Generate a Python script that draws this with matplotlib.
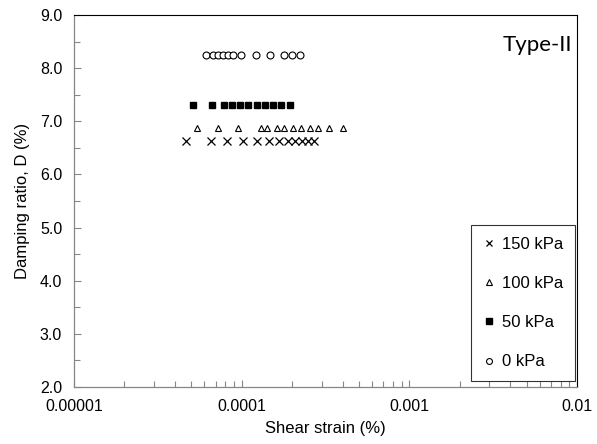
import matplotlib
matplotlib.use("Agg")
import matplotlib.pyplot as plt
from matplotlib.ticker import MultipleLocator, FixedLocator, NullFormatter, LogLocator

plt.rcParams['font.family'] = ['Liberation Sans', 'DejaVu Sans']

# Data (shear strain in %, damping ratio in %)
strain_150 = [4.65e-5, 6.56e-5, 8.17e-5, 1.02e-4, 1.23e-4, 1.45e-4, 1.67e-4, 1.89e-4, 2.08e-4, 2.29e-4, 2.49e-4, 2.70e-4]
damp_150 = [6.63] * len(strain_150)

strain_100 = [5.41e-5, 7.22e-5, 9.51e-5, 1.30e-4, 1.42e-4, 1.62e-4, 1.79e-4, 2.02e-4, 2.26e-4, 2.55e-4, 2.85e-4, 3.32e-4, 4.02e-4]
damp_100 = [6.87] * len(strain_100)

strain_50 = [5.12e-5, 6.65e-5, 7.84e-5, 8.75e-5, 9.77e-5, 1.09e-4, 1.23e-4, 1.38e-4, 1.54e-4, 1.72e-4, 1.94e-4]
damp_50 = [7.31] * len(strain_50)

strain_0 = [6.13e-5, 6.74e-5, 7.22e-5, 7.73e-5, 8.28e-5, 8.87e-5, 9.9e-5, 1.22e-4, 1.47e-4, 1.79e-4, 2.0e-4, 2.23e-4]
damp_0 = [8.25] * len(strain_0)

x_ticks = [0.00001, 0.0001, 0.001, 0.01]
x_ticklabels = ['0.00001', '0.0001', '0.001', '0.01']
y_ticks = [2.0, 3.0, 4.0, 5.0, 6.0, 7.0, 8.0, 9.0]

fig = plt.figure(figsize=(5.97, 4.44), dpi=100)
ax = fig.add_axes([74/597, 1-387/444, (577-74)/597, (387-15)/444])

ax.plot(strain_150, damp_150, linestyle='none', marker='x', color='black', markersize=5.2, markeredgewidth=0.9, label='150 kPa')
ax.plot(strain_100, damp_100, linestyle='none', marker='^', markerfacecolor='white', markeredgecolor='black', markersize=4.6, markeredgewidth=0.8, label='100 kPa')
ax.plot(strain_50, damp_50, linestyle='none', marker='s', color='black', markersize=4.3, label='50 kPa')
ax.plot(strain_0, damp_0, linestyle='none', marker='o', markerfacecolor='white', markeredgecolor='black', markersize=5.0, markeredgewidth=0.8, label='0 kPa')

ax.set_xscale('log')
ax.set_xlim(1e-5, 1e-2)
ax.set_ylim(2.0, 9.0)
ax.xaxis.set_major_locator(FixedLocator(x_ticks))
ax.set_xticklabels(x_ticklabels)
ax.xaxis.set_minor_locator(LogLocator(base=10, subs=range(2, 10)))
ax.xaxis.set_minor_formatter(NullFormatter())
ax.yaxis.set_major_locator(FixedLocator(y_ticks))
ax.set_yticklabels([f'{v:.1f}' for v in y_ticks])
ax.yaxis.set_minor_locator(MultipleLocator(0.5))

ax.tick_params(axis='both', which='both', direction='in', labelsize=11.5, color='#868686', width=0.8)
ax.tick_params(axis='both', which='major', length=5)
ax.tick_params(axis='both', which='minor', length=4)
ax.tick_params(axis='x', which='major', pad=8.5)
ax.tick_params(axis='y', which='major', pad=8.5)
ax.tick_params(top=False, right=False, which='both')

for side in ['left', 'bottom']:
    ax.spines[side].set_color('#868686')
    ax.spines[side].set_linewidth(0.9)
for side in ['top', 'right']:
    ax.spines[side].set_color('black')
    ax.spines[side].set_linewidth(0.8)

ax.set_xlabel('Shear strain (%)', fontsize=12, labelpad=5)
ax.set_ylabel('Damping ratio, D (%)', fontsize=12, labelpad=7)

ax.text(0.922, 0.92, 'Type-II', transform=ax.transAxes, fontsize=16, family=['Lato', 'DejaVu Sans'], ha='center', va='center')

leg = ax.legend(loc='lower right', bbox_to_anchor=((575-74)/(577-74), (387-381)/(387-15)),
                frameon=True, fancybox=False, edgecolor='black', fontsize=12,
                handlelength=0.75, handletextpad=0.4, labelspacing=1.45, borderpad=0.7,
                markerscale=0.85, borderaxespad=0.0)
leg.get_frame().set_linewidth(0.8)

fig.savefig('out.png', dpi=100)
